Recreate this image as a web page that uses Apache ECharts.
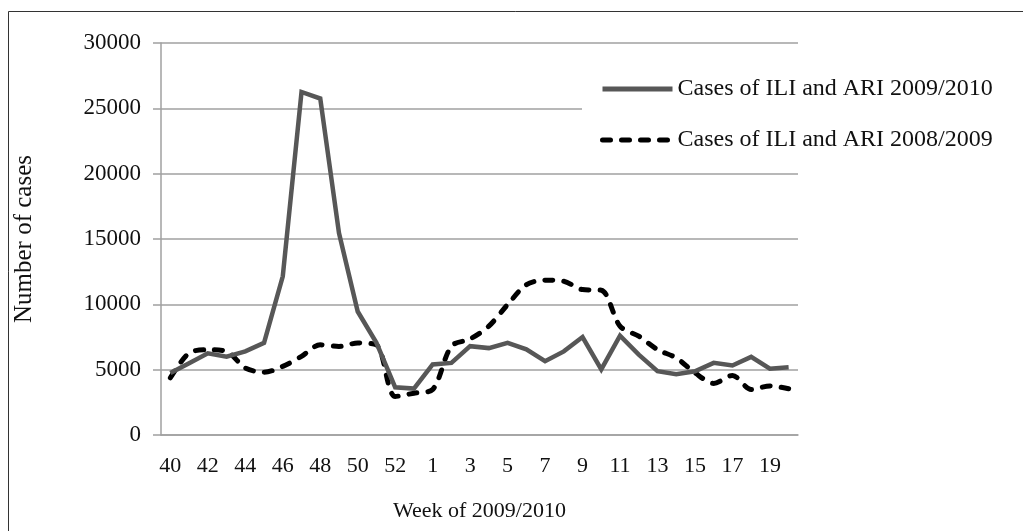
<!DOCTYPE html>
<html>
<head>
<meta charset="utf-8">
<script src="https://cdn.jsdelivr.net/npm/echarts@6/dist/echarts.min.js"></script>
<style>
html,body{margin:0;padding:0;background:#fff;}
#c{width:1023px;height:531px;}
</style>
</head>
<body>
<div id="c"></div>
<script>
const weeks = ['40','41','42','43','44','45','46','47','48','49','50','51','52','53',
  '1','2','3','4','5','6','7','8','9','10','11','12','13','14','15','16','17','18','19','20'];
const cases2009_2010 = [4750, 5500, 6250, 6000, 6400, 7050, 12150, 26250, 25750, 15450, 9450, 7050, 3650, 3550,
  5400, 5520, 6800, 6650, 7050, 6550, 5650, 6400, 7500, 5020, 7600, 6150, 4880, 4650, 4880, 5520, 5320, 5980, 5070, 5180];
const cases2008_2009 = [4380, 6270, 6520, 6400, 5130, 4800, 5250, 6020, 6900, 6780, 7040, 6900, 2950, 3200,
  3480, 6800, 7350, 8330, 9980, 11500, 11850, 11770, 11130, 11080, 8330, 7560, 6540, 5900, 4760, 3950, 4560, 3490, 3750, 3540];
const yTicks = [0, 5000, 10000, 15000, 20000, 25000, 30000];

const FONT = '"Liberation Serif", "DejaVu Serif", serif';
const chart = echarts.init(document.getElementById('c'), null, {renderer: 'canvas'});
chart.setOption({
  animation: false,
  backgroundColor: '#fff',
  grid: {left: 161, right: 225, top: 43, bottom: 96, containLabel: false},
  graphic: [
    {type: 'line', shape: {x1: 8.5, y1: 11.5, x2: 1023, y2: 11.5}, style: {stroke: '#333', lineWidth: 1}, silent: true},
    {type: 'line', shape: {x1: 8.5, y1: 11.5, x2: 8.5, y2: 531}, style: {stroke: '#333', lineWidth: 1}, silent: true}
  ],
  legend: {
    orient: 'vertical',
    left: 582,
    top: 65,
    padding: [12, 30, 12, 18],
    backgroundColor: '#fff',
    itemWidth: 70,
    itemHeight: 14,
    itemGap: 27,
    itemStyle: {opacity: 0},
    lineStyle: {width: 5},
    textStyle: {fontFamily: FONT, fontSize: 24, color: '#111'},
    data: ['Cases of ILI and ARI 2009/2010', 'Cases of ILI and ARI 2008/2009']
  },
  xAxis: {
    type: 'category',
    data: weeks,
    boundaryGap: true,
    name: 'Week of 2009/2010',
    nameLocation: 'middle',
    nameGap: 65,
    nameTextStyle: {fontFamily: FONT, fontSize: 22, color: '#111'},
    axisLine: {show: true, lineStyle: {color: '#a0a0a0', width: 1.5}},
    axisTick: {show: false},
    axisLabel: {interval: 1, margin: 20, fontFamily: FONT, fontSize: 22, color: '#111'},
    splitLine: {show: false}
  },
  yAxis: {
    type: 'value',
    min: yTicks[0],
    max: yTicks[yTicks.length - 1],
    interval: 5000,
    name: 'Number of cases',
    nameLocation: 'middle',
    nameGap: 124,
    nameTextStyle: {fontFamily: FONT, fontSize: 25, color: '#111'},
    axisLine: {show: true, lineStyle: {color: '#a0a0a0', width: 1.5}},
    axisTick: {show: true, length: 8, lineStyle: {color: '#a0a0a0', width: 1.5}},
    axisLabel: {margin: 20, fontFamily: FONT, fontSize: 23, color: '#111', formatter: v => String(v)},
    splitLine: {show: true, lineStyle: {color: '#a0a0a0', width: 1.5}}
  },
  series: [
    {
      name: 'Cases of ILI and ARI 2009/2010',
      type: 'line',
      data: cases2009_2010,
      symbol: 'none',
      z: 3,
      lineStyle: {color: '#575757', width: 4.5, join: 'miter'},
      itemStyle: {color: '#575757'}
    },
    {
      name: 'Cases of ILI and ARI 2008/2009',
      type: 'line',
      data: cases2008_2009,
      symbol: 'none',
      smooth: 0.3,
      z: 2,
      lineStyle: {color: '#000', width: 5, type: [8, 11], cap: 'round'},
      itemStyle: {color: '#000'}
    }
  ]
});
</script>
</body>
</html>
